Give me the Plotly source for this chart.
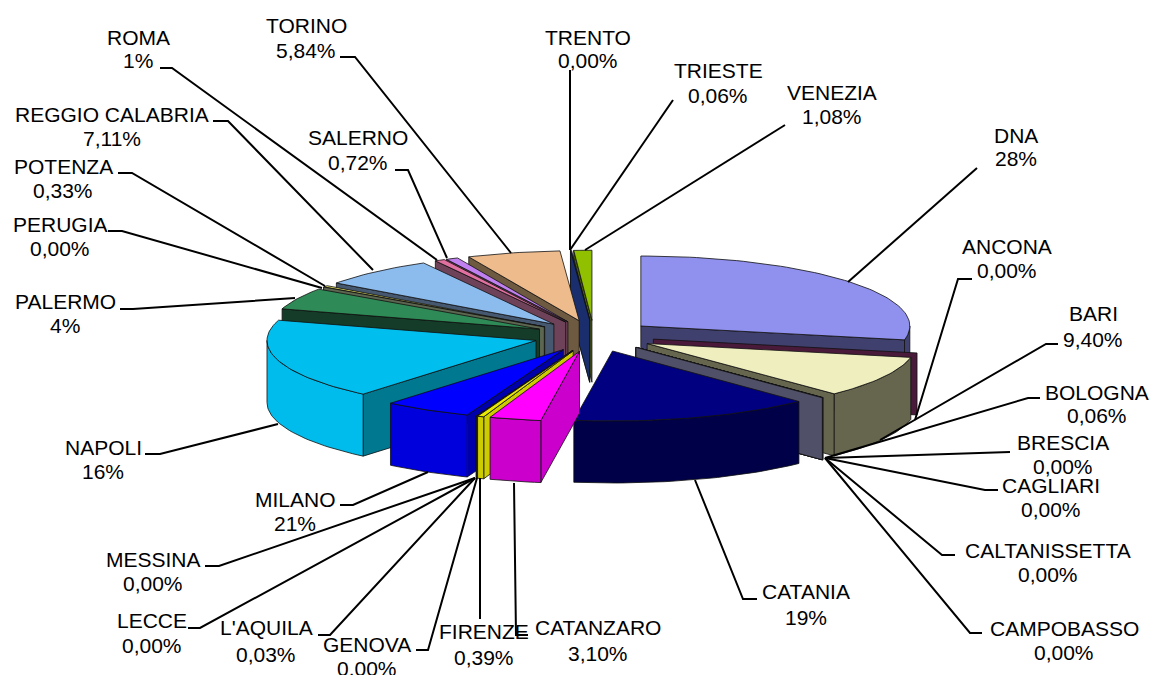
import math
import plotly.graph_objects as go

names = ["DNA","ANCONA","BARI","BOLOGNA","BRESCIA","CAGLIARI","CALTANISSETTA","CAMPOBASSO","CATANIA","CATANZARO",
         "FIRENZE","GENOVA","L'AQUILA","LECCE","MESSINA","MILANO","NAPOLI","PALERMO","PERUGIA","POTENZA",
         "REGGIO CALABRIA","ROMA","SALERNO","TORINO","TRENTO","TRIESTE","VENEZIA"]
printed = ["28%","0,00%","9,40%","0,06%","0,00%","0,00%","0,00%","0,00%","19%","3,10%",
           "0,39%","0.00%","0,03%","0,00%","0,00%","21%","16%","4%","0,00%","0,33%",
           "7,11%","1%","0,72%","5,84%","0,00%","0,06%","1,08%"]
# slice sizes
shares = [28.2,0,9.6,0.06,0,0,0,0,14.5,3.1,
          0.39,0,0.03,0,0,5.3,18.6,5.0,0,0.33,
          6.95,0.6,0.72,5.6,0,0.06,1.08]

top_col = ["#9090EE","#993366","#EEEEBE","#6E6E50","#B0B0C8","#606078","#606078","#606078","#000080","#FF00FF",
           "#E8E800","#0000FF","#00C0C0","#D0D000","#0000C0","#0000FF","#00BFEF","#2E8B57","#C0C0A0","#E0E060",
           "#8CBBEE","#E070A0","#C080F0","#EDBB8C","#204090","#204090","#90C000"]
wall_col = ["#40406E","#4A1A3A","#66664F","#66664F","#505068","#505068","#505068","#505068","#000048","#CC00CC",
            "#CCCC00","#0000AA","#C8C800","#DCDC00","#0000AA","#0000DD","#00BCEC","#143C28","#5C6650","#5C6650",
            "#465870","#6E4258","#6E4258","#6E5A40","#1A2E6E","#1A2E6E","#4A5A10"]
side_col = list(wall_col)
side_col[16] = "#007890"
side_col[15] = "#0000AA"

label_x = [1016,1007,1093,1097,1063,1051,1048,1064,806,598,484,367,266,152,153,295,103,65,60,63,112,138,358,306,588,718,832]
label_y1 = [135.5,246.5,313.5,392.5,442.5,485.5,550.5,628.5,591.5,627.5,631.5,644.5,627.5,620.5,559.5,499.5,447.5,301.5,224.5,166.5,114.5,37.5,137.5,25.5,37.5,70.5,92.5]
label_y2 = [158.5,270.5,339.5,415.5,466.5,509.5,574.5,652.5,617.5,653.5,657.5,668,654.5,645.5,583.5,523.5,471.5,325.5,248.5,190.5,138.5,60.5,162.5,50.5,60.5,95.5,116.5]
leader_x = [[977,848],[972,958,915],[1058,1046,880],[1040,1028,825],[1010,825],[998,985,825],[955,942,825],[982,970,825],
            [757,743,695],[528,516,514],[480,480],[416,428,477],[318,330,475],[188,200,475],[205,219,475],[340,353,428],
            [145,160,278],[120,133,295],[108,122,322],[118,132,325],[213,228,373],[160,172,437],[395,408,447],[340,355,511],
            [570,570],[673,570],[785,585]]
leader_y = [[168,282],[279,279,420],[344,344,440],[398,398,458],[452,458],[490,490,458],[555,555,458],[633,633,458],
            [599,599,480],[635,635,483],[619,478],[650,650,478],[635,635,478],[628,628,478],[566,566,478],[505,505,472],
            [454,454,424],[309,309,298],[231,231,288],[173,173,286],[121,121,270],[68,68,260],[170,170,258],[57,57,253],
            [70,250],[100,250],[125,250]]

CX, CY, A, B, DEPTH, PULL = 594, 336, 269, 70, 62, 0.225
total = sum(shares)
starts, ends = [], []
cum = 0.0
for s in shares:
    starts.append(cum / total * 360)
    cum += s
    ends.append(cum / total * 360)

fig = go.Figure()
OUT = "#101010"

def poly(xs, ys, color):
    fig.add_trace(go.Scatter(x=xs + xs[:1], y=ys + ys[:1], mode="lines", fill="toself", fillcolor=color,
                             line=dict(color=OUT, width=0.8), hoverinfo="skip", showlegend=False))

def rim(ax, ay, t):
    r = math.radians(t)
    return ax + A * math.sin(r), ay - B * math.cos(r)

def arc(ax, ay, t1, t2):
    n = max(2, int(abs(t2 - t1) / 1.5) + 2)
    pts = [rim(ax, ay, t1 + (t2 - t1) * i / (n - 1)) for i in range(n)]
    return [p[0] for p in pts], [p[1] for p in pts]

def draw_slice(i):
    t1, t2 = starts[i], ends[i]
    m = math.radians((t1 + t2) / 2)
    ax = CX + PULL * A * math.sin(m)
    ay = CY - PULL * B * math.cos(m)
    # visible cut faces
    if 0 < t2 < 180:
        x, y = rim(ax, ay, t2)
        poly([ax, x, x, ax], [ay, y, y + DEPTH, ay + DEPTH], side_col[i])
    if 180 < t1 < 360:
        x, y = rim(ax, ay, t1)
        poly([ax, x, x, ax], [ay, y, y + DEPTH, ay + DEPTH], side_col[i])
    # outer wall, front half only
    a1, a2 = max(t1, 90), min(t2, 270)
    if a2 > a1:
        xs, ys = arc(ax, ay, a1, a2)
        poly(xs + xs[::-1], ys + [v + DEPTH for v in ys[::-1]], wall_col[i])
    # top
    if t2 > t1:
        xs, ys = arc(ax, ay, t1, t2)
        poly([ax] + xs, [ay] + ys, top_col[i])

CATANIA = names.index("CATANIA")
order = list(range(0, CATANIA + 1)) + list(range(len(names) - 1, CATANIA, -1))
for i in order:
    draw_slice(i)

for xs, ys in zip(leader_x, leader_y):
    fig.add_trace(go.Scatter(x=xs, y=ys, mode="lines", line=dict(color="#000000", width=2),
                             hoverinfo="skip", showlegend=False))

font = dict(family="Liberation Sans, Arial, sans-serif", size=21, color="#000000")
for n, p, x, y1, y2 in zip(names, printed, label_x, label_y1, label_y2):
    fig.add_annotation(x=x, y=y1, text=n, showarrow=False, font=font, xanchor="center", yanchor="middle")
    fig.add_annotation(x=x, y=y2, text=p, showarrow=False, font=font, xanchor="center", yanchor="middle")

fig.update_layout(width=1153, height=675, margin=dict(l=0, r=0, t=0, b=0),
                  paper_bgcolor="#FFFFFF", plot_bgcolor="#FFFFFF", showlegend=False,
                  xaxis=dict(range=[0, 1153], visible=False, fixedrange=True),
                  yaxis=dict(range=[675, 0], visible=False, fixedrange=True))
fig.write_html("out.html", config={"displayModeBar": False}, post_script="document.body.style.margin='0';")
